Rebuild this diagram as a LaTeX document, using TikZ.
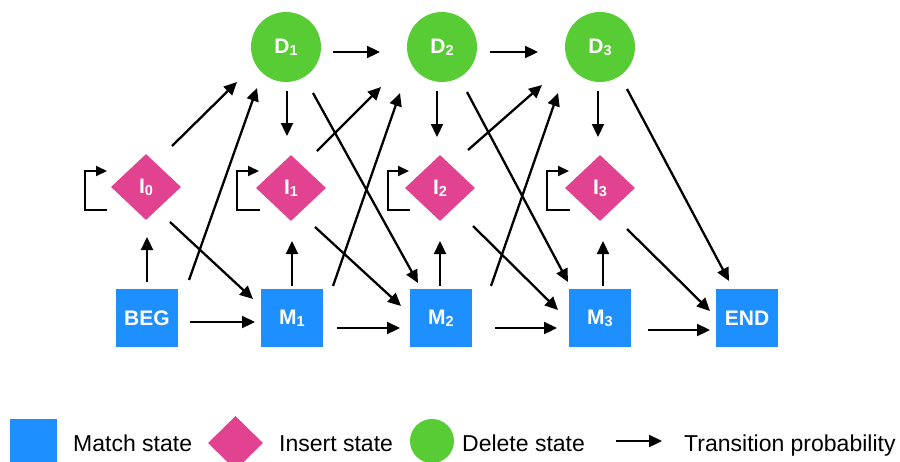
\documentclass[tikz,border=0pt]{standalone}
\usepackage{fontspec}
\setmainfont{Liberation Sans}
\usetikzlibrary{arrows.meta,shapes.geometric}

\definecolor{matchblue}{RGB}{30,143,255}
\definecolor{insertpink}{RGB}{226,67,145}
\definecolor{deletegreen}{RGB}{88,204,52}

% state label: letter with a lowered, smaller index
\newcommand\stlab[2]{#1{\fontsize{14.5}{14.5}\selectfont\raisebox{-2pt}{#2}}}
\newcommand\labfont{\fontsize{21}{21}\selectfont\bfseries}
\newcommand\legfont{\fontsize{23}{28}\selectfont}

\tikzset{
  matchst/.style={rectangle, fill=matchblue, minimum width=62pt, minimum height=58pt,
    inner sep=0pt, text=white, font=\labfont},
  insertst/.style={diamond, fill=insertpink, minimum width=70pt, minimum height=66pt,
    inner sep=0pt, text=white, font=\labfont},
  deletest/.style={circle, fill=deletegreen, minimum size=70pt,
    inner sep=0pt, text=white, font=\labfont},
  arr/.style={line width=2.3pt, -{Triangle[length=13pt,width=12pt]}},
  loopline/.style={line width=2.1pt, -{Triangle[length=11pt,width=10pt]}},
  legtext/.style={anchor=base west, inner sep=0pt, font=\legfont},
}

\begin{document}
\begin{tikzpicture}[x=1pt,y=-1pt]
\clip (0,0) rectangle (900,461);
\fill[white] (0,0) rectangle (900,461);

% delete states
\node[deletest] (D1) at (286,47) {\stlab{D}{1}};
\node[deletest] (D2) at (442,47) {\stlab{D}{2}};
\node[deletest] (D3) at (600,47) {\stlab{D}{3}};

% insert states
\node[insertst] (I0) at (146,187) {\stlab{I}{0}};
\node[insertst] (I1) at (291,188) {\stlab{I}{1}};
\node[insertst] (I2) at (440,188) {\stlab{I}{2}};
\node[insertst] (I3) at (600,188) {\stlab{I}{3}};

% match states, begin and end
\node[matchst] (BEG) at (147,318) {BEG};
\node[matchst] (M1)  at (292,318) {\stlab{M}{1}};
\node[matchst] (M2)  at (441,318) {\stlab{M}{2}};
\node[matchst] (M3)  at (600,318) {\stlab{M}{3}};
\node[matchst] (END) at (747,318) {END};

% delete -> delete
\draw[arr] ([shift={(47,5)}]D1.center) -- ([shift={(-62,5)}]D2.center);
\draw[arr] ([shift={(48,5)}]D2.center) -- ([shift={(-62,5)}]D3.center);

% delete -> insert
\draw[arr] ([shift={(1,44)}]D1.center)  -- ([shift={(-4,-52)}]I1.center);
\draw[arr] ([shift={(-5,44)}]D2.center) -- ([shift={(-3,-51)}]I2.center);
\draw[arr] ([shift={(-2,44)}]D3.center) -- ([shift={(-2,-51)}]I3.center);

% match -> insert
\draw[arr] ([shift={(0,-36)}]BEG.center) -- ([shift={(1,50)}]I0.center);
\draw[arr] ([shift={(0,-32)}]M1.center)  -- ([shift={(1,53)}]I1.center);
\draw[arr] ([shift={(-1,-32)}]M2.center) -- ([shift={(0,53)}]I2.center);
\draw[arr] ([shift={(3,-32)}]M3.center)  -- ([shift={(3,53)}]I3.center);

% match -> match
\draw[arr] ([shift={(43,4)}]BEG.center) -- ([shift={(-37,4)}]M1.center);
\draw[arr] ([shift={(45,10)}]M1.center) -- ([shift={(-41,10)}]M2.center);
\draw[arr] ([shift={(54,10)}]M2.center) -- ([shift={(-43,10)}]M3.center);
\draw[arr] ([shift={(48,12)}]M3.center) -- ([shift={(-37,12)}]END.center);

% insert -> delete
\draw[arr] ([shift={(26,-41)}]I0.center) -- ([shift={(-49,35)}]D1.center);
\draw[arr] ([shift={(26,-37)}]I1.center) -- ([shift={(-61,40)}]D2.center);
\draw[arr] ([shift={(28,-38)}]I2.center) -- ([shift={(-58,38)}]D3.center);

% match -> delete
\draw[arr] ([shift={(42,-38)}]BEG.center) -- ([shift={(-29,41)}]D1.center);
\draw[arr] ([shift={(41,-32)}]M1.center)  -- ([shift={(-42,46)}]D2.center);
\draw[arr] ([shift={(50,-32)}]M2.center)  -- ([shift={(-42,46)}]D3.center);

% delete -> match
\draw[arr] ([shift={(27,46)}]D1.center) -- ([shift={(-23,-35)}]M2.center);
\draw[arr] ([shift={(25,45)}]D2.center) -- ([shift={(-32,-36)}]M3.center);
\draw[arr] ([shift={(27,42)}]D3.center) -- ([shift={(-18,-37)}]END.center);

% insert -> match
\draw[arr] ([shift={(24,35)}]I0.center) -- ([shift={(-39,-19)}]M1.center);
\draw[arr] ([shift={(24,39)}]I1.center) -- ([shift={(-40,-12)}]M2.center);
\draw[arr] ([shift={(33,38)}]I2.center) -- ([shift={(-42,-8)}]M3.center);
\draw[arr] ([shift={(27,41)}]I3.center) -- ([shift={(-37,-7)}]END.center);

% insert self-loops
\draw[loopline] ([shift={(-39,23)}]I0.center) -| ++(-22,-39) -- ++(22,0);
\draw[loopline] ([shift={(-31,22)}]I1.center) -| ++(-23,-39) -- ++(22,0);
\draw[loopline] ([shift={(-30,22)}]I2.center) -| ++(-22,-39) -- ++(21,0);
\draw[loopline] ([shift={(-30,22)}]I3.center) -| ++(-23,-39) -- ++(22,0);

% legend
\node[rectangle, fill=matchblue, minimum width=47pt, minimum height=47pt, inner sep=0pt] (LM) at (33.5,442.5) {};
\node[legtext] (LMt) at (73,451) {Match state};
\node[diamond, fill=insertpink, minimum width=55pt, minimum height=54pt, inner sep=0pt] (LI) at (235.5,443) {};
\node[legtext] (LIt) at (279,451) {Insert state};
\node[circle, fill=deletegreen, minimum size=44pt, inner sep=0pt] (LD) at (432,441) {};
\node[legtext] (LDt) at (462,451) {Delete state};
\coordinate (LAs) at (616,441);
\coordinate (LAe) at (662,441);
\draw[arr] (LAs) -- (LAe);
\node[legtext] (LAt) at (684,451) {Transition probability};
\end{tikzpicture}
\end{document}
